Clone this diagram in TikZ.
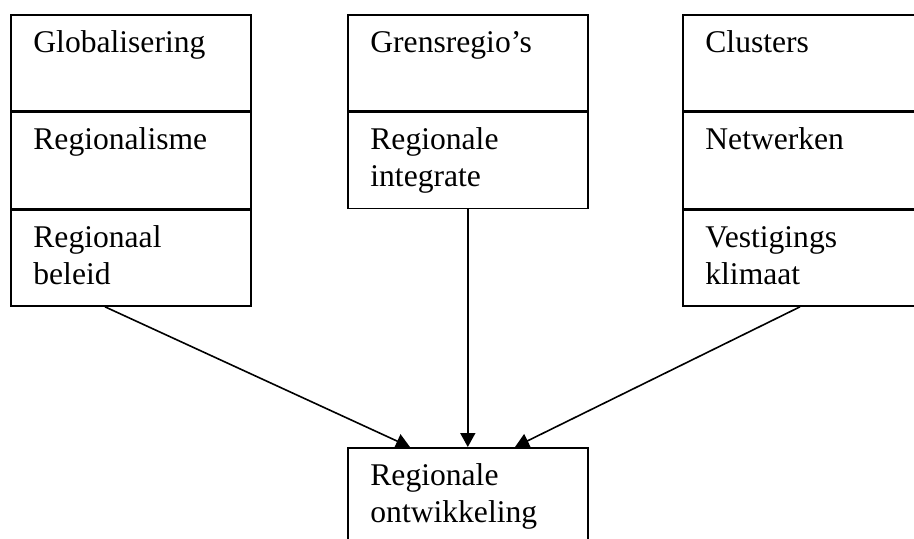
\documentclass[tikz,border=0pt]{standalone}
\usepackage{fontspec}
\setmainfont{Liberation Serif}
\usetikzlibrary{arrows.meta}

\tikzset{
    cel/.style={draw, line width=0.8pt, minimum width=120pt, minimum height=48pt,
        inner sep=0pt, anchor=north west},
    tekst/.style={anchor=base west, inner sep=0pt, align=left,
        font=\fontsize{15.8pt}{18.5pt}\selectfont},
    pijl/.style={line width=0.8pt, -{Triangle[length=7pt,width=7.5pt]}}
}

\begin{document}
\begin{tikzpicture}[x=0.5pt, y=-0.5pt]
            \useasboundingbox (0, 0) rectangle (914, 538);
            \clip (0, 0) rectangle (914, 538);

            % linker kolom
            \node[cel] (g1) at (10, 14) {};
            \node[cel] (g2) at (g1.south west) {};
            \node[cel] (g3) at (g2.south west) {};
            % middelste kolom
            \node[cel] (m1) at (347, 14) {};
            \node[cel] (m2) at (m1.south west) {};
            % rechter kolom
            \node[cel] (r1) at (682, 14) {};
            \node[cel] (r2) at (r1.south west) {};
            \node[cel] (r3) at (r2.south west) {};
            % onderste blok
            \node[cel] (ro) at (347, 447) {};

            % teksten (base = laatste regel)
            \node[tekst] at ([shift={(23, 38)}]g1.north west) {Globalisering};
            \node[tekst] at ([shift={(23, 38)}]g2.north west) {Regionalisme};
            \node[tekst] at ([shift={(23, 75)}]g3.north west) {Regionaal\\beleid};
            \node[tekst] at ([shift={(23, 38)}]m1.north west) {Grensregio’s};
            \node[tekst] at ([shift={(23, 75)}]m2.north west) {Regionale\\integrate};
            \node[tekst] at ([shift={(23, 38)}]r1.north west) {Clusters};
            \node[tekst] at ([shift={(23, 38)}]r2.north west) {Netwerken};
            \node[tekst] at ([shift={(23, 75)}]r3.north west) {Vestigings\\klimaat};
            \node[tekst] at ([shift={(23, 75)}]ro.north west) {Regionale\\ontwikkeling};

            \draw[pijl] ([shift={(95, 0)}]g3.south west) -- ([shift={(63, 0)}]ro.north west);
            \draw[pijl] (m2.south) -- (ro.north);
            \draw[pijl] ([shift={(118, 0)}]r3.south west) -- ([shift={(168, 0)}]ro.north west);
\end{tikzpicture}
\end{document}
